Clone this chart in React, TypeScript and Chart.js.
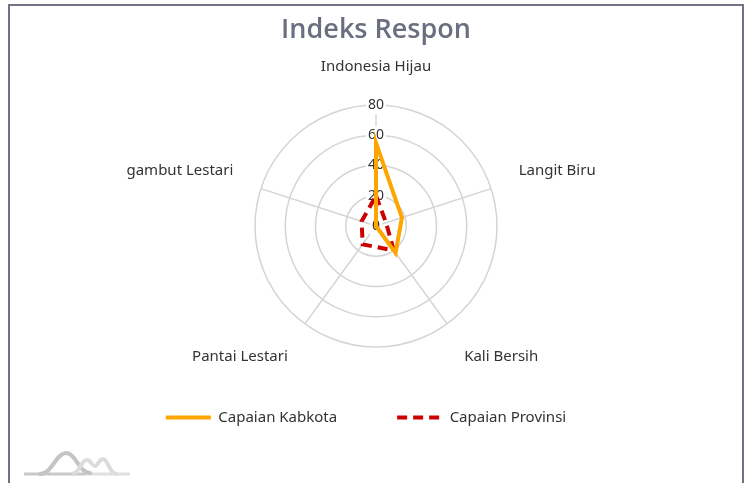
import React, { useEffect, useRef } from 'react';
import { Chart, registerables } from 'chart.js';

Chart.register(...registerables);

const TITLE = 'Indeks Respon';
const CATEGORIES = ['Indonesia Hijau', 'Langit Biru', 'Kali Bersih', 'Pantai Lestari', 'gambut Lestari'];
const SERIES_NAMES = ['Capaian Kabkota', 'Capaian Provinsi'];
const KABKOTA = [55, 18, 22, 0, 0];
const PROVINSI = [20, 7, 20, 15, 10];
const TICKS = [0, 20, 40, 60, 80];

const FONT = '"Noto Sans", "Open Sans", sans-serif';

export default function App() {
  const ref = useRef<HTMLCanvasElement>(null);

  useEffect(() => {
    if (!ref.current) return;
    const legendShift = {
      id: 'legendShift',
      afterLayout(chart: any) {
        const l = chart.legend;
        if (l) {
          l.top -= 28;
          l.bottom -= 28;
          l.left -= 10;
          l.right -= 10;
        }
      },
    };
    const chart = new Chart(ref.current, {
      type: 'radar',
      data: {
        labels: CATEGORIES,
        datasets: [
          {
            label: SERIES_NAMES[0],
            data: KABKOTA,
            borderColor: '#FFA500',
            backgroundColor: 'rgba(0,0,0,0)',
            borderWidth: 4,
            pointRadius: 0,
            pointHoverRadius: 0,
            fill: false,
          },
          {
            label: SERIES_NAMES[1],
            data: PROVINSI,
            borderColor: '#CC0000',
            backgroundColor: 'rgba(0,0,0,0)',
            borderWidth: 4,
            borderDash: [10, 6],
            pointRadius: 0,
            pointHoverRadius: 0,
            fill: false,
          },
        ],
      },
      options: {
        responsive: false,
        animation: false,
        devicePixelRatio: 1,
        layout: { padding: { top: 0, bottom: 20, left: 0, right: 0 } },
        plugins: {
          title: {
            display: true,
            text: TITLE,
            color: '#6b6e7e',
            font: { family: '"Open Sans", sans-serif', size: 27, weight: '600', lineHeight: 1 },
            padding: { top: 11, bottom: -2 },
          },
          legend: {
            position: 'bottom',
            labels: {
              usePointStyle: true,
              pointStyle: 'line',
              pointStyleWidth: 45,
              padding: 60,
              color: '#333333',
              font: { family: FONT, size: 15 },
              generateLabels: (c: any) => {
                const items = (Chart as any).defaults.plugins.legend.labels.generateLabels(c);
                return items.map((it: any) => {
                  const ds: any = c.data.datasets[it.datasetIndex];
                  return {
                    ...it,
                    lineDash: ds.borderDash || [],
                    lineWidth: 4,
                    strokeStyle: ds.borderColor,
                    fillStyle: ds.borderColor,
                    pointStyle: 'line',
                  };
                });
              },
            },
          },
          tooltip: { enabled: false },
        },
        scales: {
          r: {
            min: -0.000001,
            max: 80,
            afterBuildTicks: (scale: any) => {
              scale.ticks = TICKS.map((v) => ({ value: v }));
            },
            ticks: {
              color: '#333333',
              font: { family: FONT, size: 14 },
              backdropColor: '#ffffff',
              backdropPadding: 2,
              showLabelBackdrop: true,
            },
            grid: { color: '#d4d4d4', lineWidth: 1.5, circular: true },
            angleLines: { color: '#d4d4d4', lineWidth: 1.5 },
            pointLabels: {
              color: '#333333',
              font: { family: FONT, size: 15 },
              padding: 20,
            },
          },
        },
      },
      plugins: [legendShift],
    } as any);
    return () => chart.destroy();
  }, []);

  return (
    <div
      style={{
        position: 'absolute',
        left: 8,
        top: 4,
        width: 736,
        height: 520,
        boxSizing: 'border-box',
        border: '2px solid #6f7383',
        background: '#ffffff',
      }}
    >
      <canvas
        ref={ref}
        width={732}
        height={477}
        style={{ position: 'absolute', left: 0, top: 0, width: 732, height: 477 }}
      />
      <svg
        width={120}
        height={40}
        viewBox="0 0 120 40"
        style={{ position: 'absolute', left: 8, top: 440 }}
      >
        <path d="M6 28 H68" stroke="#c8c8c8" strokeWidth={3} fill="none" />
        <path d="M68 28 H112" stroke="#e0e0e0" strokeWidth={3} fill="none" />
        <path
          d="M22 28 C34 28 38 7 48 7 C58 7 60 26 72 27"
          stroke="#c4c4c4"
          strokeWidth={4}
          fill="none"
          strokeLinecap="round"
        />
        <path
          d="M56 27 C62 26 63 14 69 14 C73 14 74 20 77 20 C80 20 81 13 85 13 C90 13 91 27 98 28"
          stroke="#dcdcdc"
          strokeWidth={4}
          fill="none"
          strokeLinecap="round"
        />
      </svg>
    </div>
  );
}
